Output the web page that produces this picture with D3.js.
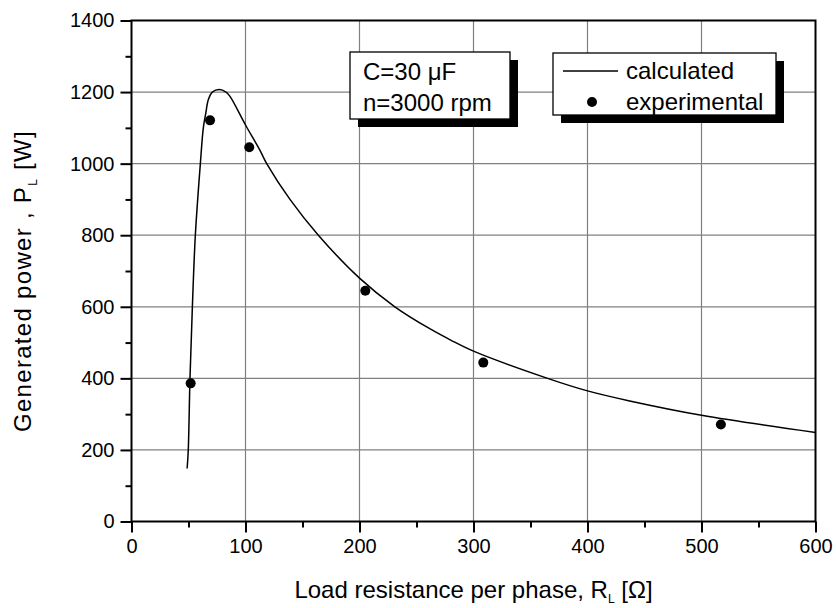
<!DOCTYPE html>
<html>
<head>
<meta charset="utf-8">
<script src="https://cdn.jsdelivr.net/npm/d3@7"></script>
<style>
  html, body { margin: 0; padding: 0; background: #fff; }
  svg { display: block; font-family: "Liberation Sans", Arial, sans-serif; }
</style>
</head>
<body>
<svg id="chart" width="836" height="608"></svg>
<script>
// ---- data ----
const xTicks = [0, 100, 200, 300, 400, 500, 600];
const yTicks = [0, 200, 400, 600, 800, 1000, 1200, 1400];
const expR = [51.9, 68.9, 103.3, 205.1, 308.6, 517];
const expP = [386, 1121, 1046, 645, 444, 271];
const calcR = [48.8, 49.8, 51.3, 53.4, 56, 60.4, 63, 65.1, 67.5, 70.9, 77, 82.9, 86.4, 100, 112.7, 118.6, 139, 163.9, 200, 231, 262, 280, 300, 365, 400, 437, 500, 600];
const calcP = [148, 200, 400, 600, 800, 1000, 1100, 1140, 1180, 1200, 1207, 1200, 1188, 1108, 1037, 1000, 900, 800, 680, 600, 538, 507, 476, 400, 365, 337, 297, 249];
const legendLabels = ["calculated", "experimental"];
const noteLines = ["C=30 \u03BCF", "n=3000 rpm"];

// ---- layout ----
const L = 131.5, R = 815.5, T = 20.5, B = 521.5;
const svg = d3.select("#chart");
const x = d3.scaleLinear().domain([0, 600]).range([L, R]);
const y = d3.scaleLinear().domain([0, 1400]).range([B, T]);

// grid
const grid = svg.append("g").attr("stroke", "#808080").attr("stroke-width", 1.2);
grid.selectAll("line.gx").data(xTicks.slice(1, -1)).join("line")
  .attr("x1", d => x(d)).attr("x2", d => x(d)).attr("y1", T).attr("y2", B);
grid.selectAll("line.gy").data(yTicks.slice(1, -1)).join("line")
  .attr("y1", d => y(d)).attr("y2", d => y(d)).attr("x1", L).attr("x2", R);

// axes
const xMinor = d3.range(50, 600, 100);
const yMinor = d3.range(100, 1400, 200);
const xAxis = svg.append("g").attr("transform", `translate(0,${B})`)
  .call(d3.axisBottom(x).tickValues(xTicks).tickSize(11).tickPadding(6).tickFormat(d3.format("d")));
const yAxis = svg.append("g").attr("transform", `translate(${L},0)`)
  .call(d3.axisLeft(y).tickValues(yTicks).tickSize(11).tickPadding(6).tickFormat(d3.format("d")));
svg.append("g").attr("transform", `translate(0,${B})`)
  .call(d3.axisBottom(x).tickValues(xMinor).tickSize(6).tickFormat(""));
svg.append("g").attr("transform", `translate(${L},0)`)
  .call(d3.axisLeft(y).tickValues(yMinor).tickSize(6).tickFormat(""));
svg.selectAll(".tick line").attr("stroke", "#000").attr("stroke-width", 2);
svg.selectAll(".domain").remove();
xAxis.selectAll("text").attr("font-size", 20).attr("fill", "#000")
  .attr("font-family", "Liberation Sans, Arial, sans-serif");
yAxis.selectAll("text").attr("font-size", 20).attr("fill", "#000")
  .attr("font-family", "Liberation Sans, Arial, sans-serif");

// frame
svg.append("rect").attr("x", L).attr("y", T).attr("width", R - L).attr("height", B - T)
  .attr("fill", "none").attr("stroke", "#000").attr("stroke-width", 2);

// calculated curve
const calc = calcR.map((r, i) => [r, calcP[i]]);
svg.append("path").datum(calc)
  .attr("fill", "none").attr("stroke", "#000").attr("stroke-width", 1.5)
  .attr("d", d3.line().x(d => x(d[0])).y(d => y(d[1])).curve(d3.curveCatmullRom.alpha(0.5)));

// experimental points
svg.append("g").selectAll("circle").data(expR.map((r, i) => [r, expP[i]])).join("circle")
  .attr("cx", d => x(d[0])).attr("cy", d => y(d[1])).attr("r", 5).attr("fill", "#000");

// axis titles
const xt = svg.append("text").attr("x", (L + R) / 2).attr("y", 598)
  .attr("text-anchor", "middle").attr("font-size", 24).attr("fill", "#000");
xt.append("tspan").text("Load resistance per phase, R");
xt.append("tspan").attr("font-size", 12).attr("dy", 5).text("L");
xt.append("tspan").attr("dy", -5).text(" [\u03A9]");

const yt = svg.append("text").attr("transform", "translate(31,281) rotate(-90)")
  .attr("text-anchor", "middle").attr("font-size", 24).attr("letter-spacing", 1.3).attr("fill", "#000");
yt.append("tspan").text("Generated power , P");
yt.append("tspan").attr("font-size", 12).attr("dy", 6).text("L");
yt.append("tspan").attr("dy", -6).text(" [W]");

// note box
function boxWithShadow(x0, y0, w, h) {
  svg.append("rect").attr("x", x0 + 8).attr("y", y0 + 8).attr("width", w).attr("height", h).attr("fill", "#000");
  svg.append("rect").attr("x", x0).attr("y", y0).attr("width", w).attr("height", h)
    .attr("fill", "#fff").attr("stroke", "#000").attr("stroke-width", 1.3);
}
boxWithShadow(350, 52, 160, 67);
svg.append("g").selectAll("text").data(noteLines).join("text")
  .attr("x", 363).attr("y", (d, i) => 80 + i * 31)
  .attr("font-size", 24).attr("fill", "#000").text(d => d);

// legend
boxWithShadow(553, 53, 223, 62);
svg.append("line").attr("x1", 563).attr("x2", 618).attr("y1", 71).attr("y2", 71)
  .attr("stroke", "#000").attr("stroke-width", 1.5);
svg.append("circle").attr("cx", 592).attr("cy", 102).attr("r", 5).attr("fill", "#000");
svg.append("g").selectAll("text").data(legendLabels).join("text")
  .attr("x", 626).attr("y", (d, i) => 79 + i * 31)
  .attr("font-size", 24).attr("fill", "#000").text(d => d);
</script>
</body>
</html>
